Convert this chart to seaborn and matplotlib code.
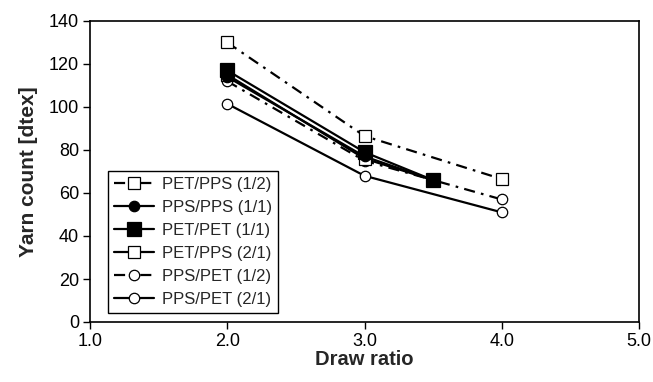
import matplotlib
matplotlib.use("Agg")
import matplotlib.pyplot as plt
import seaborn as sns
import pandas as pd

# Data
labels = ["PET/PPS (1/2)", "PPS/PPS (1/1)", "PET/PET (1/1)",
          "PET/PPS (2/1)", "PPS/PET (1/2)", "PPS/PET (2/1)"]
x_pet_pps_12 = [2.0, 3.0, 4.0]
y_pet_pps_12 = [130, 86.5, 66.5]
x_pps_pps_11 = [2.0, 3.0, 3.5]
y_pps_pps_11 = [114, 77, 66]
x_pet_pet_11 = [2.0, 3.0, 3.5]
y_pet_pet_11 = [117, 79, 66]
x_pet_pps_21 = [2.0, 3.0, 3.5]
y_pet_pps_21 = [115, 76, 66]
x_pps_pet_12 = [2.0, 3.0, 4.0]
y_pps_pet_12 = [112, 75, 57]
x_pps_pet_21 = [2.0, 3.0, 4.0]
y_pps_pet_21 = [101.5, 68, 51]

xs = [x_pet_pps_12, x_pps_pps_11, x_pet_pet_11, x_pet_pps_21, x_pps_pet_12, x_pps_pet_21]
ys = [y_pet_pps_12, y_pps_pps_11, y_pet_pet_11, y_pet_pps_21, y_pps_pet_12, y_pps_pet_21]

dashdot = (5, 2.8, 1.2, 2.8)
styles = [
    dict(marker="s", mfc="white", ms=8, dashes=dashdot, z=3),
    dict(marker="o", mfc="black", ms=7.5, dashes=None, z=4),
    dict(marker="s", mfc="black", ms=10, dashes=None, z=6),
    dict(marker="s", mfc="white", ms=8, dashes=None, z=3.5),
    dict(marker="o", mfc="white", ms=7.5, dashes=dashdot, z=3),
    dict(marker="o", mfc="white", ms=7.5, dashes=None, z=3),
]

sns.set_style("ticks")
plt.rcParams["font.family"] = ["Liberation Sans", "DejaVu Sans"]

fig = plt.figure(figsize=(6.53, 3.82), dpi=100)
ax = fig.add_axes([90/653, 1-322/382, (639-90)/653, (322-21)/382])

for lab, x, y, st in zip(labels, xs, ys, styles):
    df = pd.DataFrame({"x": x, "y": y})
    sns.lineplot(data=df, x="x", y="y", ax=ax, color="black", lw=1.6,
                 marker=st["marker"], markersize=st["ms"],
                 markerfacecolor=st["mfc"], markeredgecolor="black",
                 markeredgewidth=0.9, label=lab, legend=False, zorder=st["z"])
    line = ax.lines[-1]
    if st["dashes"] is not None:
        line.set_dashes(st["dashes"])

ax.set_xlim(1.0, 5.0)
ax.set_ylim(0, 140)
ax.set_xticks([1.0, 2.0, 3.0, 4.0, 5.0])
ax.set_xticklabels(["1.0", "2.0", "3.0", "4.0", "5.0"])
ax.set_yticks(range(0, 141, 20))
ax.tick_params(direction="out", length=5, width=1, labelsize=13, colors="black", pad=3)
for s in ax.spines.values():
    s.set_visible(True)
    s.set_color("black")
    s.set_linewidth(1.2)

ax.set_xlabel("Draw ratio", fontsize=14.5, fontweight="bold", labelpad=0)
ax.set_ylabel("Yarn count [dtex]", fontsize=15, fontweight="bold", labelpad=8)

leg = ax.legend(loc="lower left", bbox_to_anchor=(0.033, 0.03), borderaxespad=0,
                fontsize=12, frameon=True, fancybox=False, handlelength=2.4,
                labelspacing=0.48, borderpad=0.35, handletextpad=0.5)
leg.get_frame().set_edgecolor("black")
leg.get_frame().set_linewidth(1.0)
leg.get_frame().set_alpha(1)

fig.savefig("out.png", dpi=100)
